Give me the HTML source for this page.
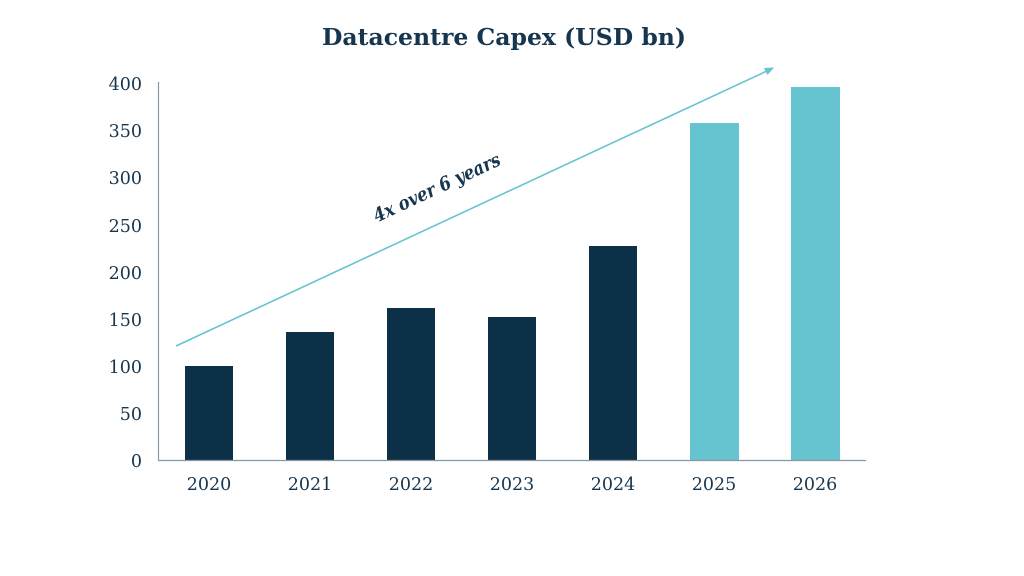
<!DOCTYPE html>
<html><head><meta charset="utf-8"><style>
html,body{margin:0;padding:0;background:#fff;}
svg{display:block;}
text{font-family:"DejaVu Serif","Liberation Serif",serif;fill:#16364f;}
</style></head><body>
<svg width="1024" height="576" viewBox="0 0 1024 576" xmlns="http://www.w3.org/2000/svg">
<rect width="1024" height="576" fill="#fff"/>
<text x="322" y="45" font-size="23" font-weight="bold" fill="#0d3049" textLength="364" lengthAdjust="spacingAndGlyphs">Datacentre Capex (USD bn)</text>
<g font-size="17.5" text-anchor="end">
<text x="142" y="90">400</text>
<text x="142" y="137">350</text>
<text x="142" y="184">300</text>
<text x="142" y="232">250</text>
<text x="142" y="279">200</text>
<text x="142" y="326">150</text>
<text x="142" y="373">100</text>
<text x="142" y="420">50</text>
<text x="142" y="467">0</text>
</g>
<g fill="#0d3049">
<rect x="185" y="366" width="48" height="94"/>
<rect x="286" y="332" width="48" height="128"/>
<rect x="387" y="308" width="48" height="152"/>
<rect x="488" y="317" width="48" height="143"/>
<rect x="589" y="246" width="48" height="214"/>
</g>
<g fill="#66c3d0">
<rect x="690" y="123" width="49" height="337"/>
<rect x="791" y="87" width="49" height="373"/>
</g>
<line x1="158.5" y1="82" x2="158.5" y2="460" stroke="#8797a6" stroke-width="1.2"/>
<line x1="158" y1="460.5" x2="866" y2="460.5" stroke="#8797a6" stroke-width="1.2"/>
<g font-size="17.5" text-anchor="middle">
<text x="209" y="490">2020</text>
<text x="310" y="490">2021</text>
<text x="411" y="490">2022</text>
<text x="512" y="490">2023</text>
<text x="613" y="490">2024</text>
<text x="714" y="490">2025</text>
<text x="815" y="490">2026</text>
</g>
<line x1="176" y1="346" x2="768" y2="70.5" stroke="#66c3d0" stroke-width="1.6"/>
<polygon points="774,67.5 764,68 767.5,75" fill="#66c3d0"/>
<text x="437" y="194" text-anchor="middle" font-size="19" font-weight="bold" font-style="italic" fill="#0d3049" transform="rotate(-25 437 188)" textLength="138" lengthAdjust="spacingAndGlyphs">4x over 6 years</text>
</svg>
</body></html>
